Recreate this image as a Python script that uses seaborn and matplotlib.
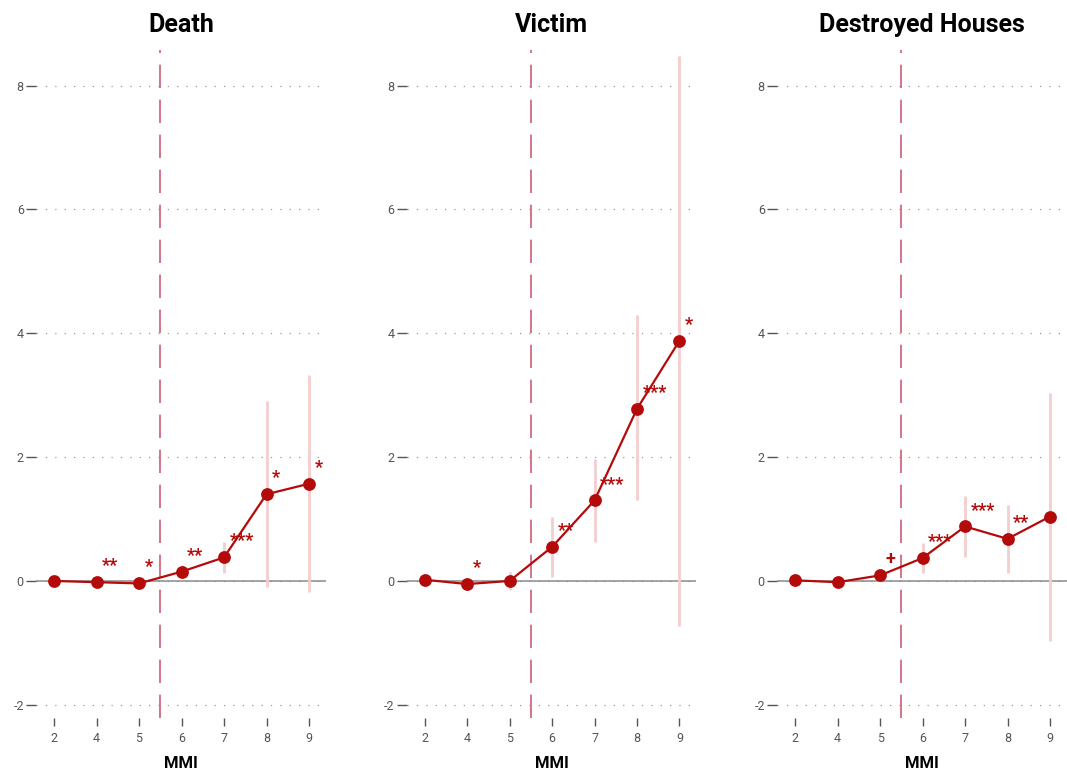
import numpy as np
import pandas as pd
import seaborn as sns
import matplotlib.pyplot as plt

mmi = ["2", "4", "5", "6", "7", "8", "9"]
titles = ["Death", "Victim", "Destroyed Houses"]

death_est = [0.0, -0.02, -0.04, 0.15, 0.38, 1.40, 1.57]
death_lo = [0.0, -0.05, -0.08, 0.05, 0.13, -0.10, -0.18]
death_hi = [0.0, 0.01, 0.0, 0.25, 0.63, 2.90, 3.33]
death_sig = ["", "**", "*", "**", "***", "*", "*"]

victim_est = [0.02, -0.05, 0.0, 0.55, 1.30, 2.78, 3.88]
victim_lo = [0.02, -0.1, -0.15, 0.06, 0.63, 1.30, -0.73]
victim_hi = [0.02, 0.0, 0.15, 1.03, 1.97, 4.30, 8.48]
victim_sig = ["", "*", "", "**", "***", "***", "*"]

houses_est = [0.01, -0.02, 0.09, 0.37, 0.88, 0.68, 1.04]
houses_lo = [0.01, -0.05, 0.0, 0.13, 0.39, 0.13, -0.97]
houses_hi = [0.01, 0.01, 0.18, 0.61, 1.37, 1.23, 3.04]
houses_sig = ["", "", "+", "***", "***", "**", ""]

panels = [
    (death_est, death_lo, death_hi, death_sig),
    (victim_est, victim_lo, victim_hi, victim_sig),
    (houses_est, houses_lo, houses_hi, houses_sig),
]

sns.set_style("white")
plt.rcParams["font.family"] = ["Roboto", "DejaVu Sans"]

RED = "#B40A0A"
PINK = "#F4CDCD"
DASH = "#D4748A"
GRAY = "#555555"

fig, axes = plt.subplots(1, 3, figsize=(10.67, 7.76), dpi=100)
fig.subplots_adjust(left=0.034, right=1.0, bottom=0.075, top=0.936, wspace=0.279)

for ax, title, (est, lo, hi, sig) in zip(axes, titles, panels):
    df = pd.DataFrame({"MMI": mmi, "est": est})
    pos = np.arange(len(mmi))

    for y in [-2, 0, 2, 4, 6, 8]:
        ax.axhline(y, color="#9a9a9a", lw=0.9, ls=(0, (1, 6.5)), zorder=0)
    ax.axhline(0, color="#8a8a8a", lw=1.1, zorder=1)

    ax.vlines(pos, lo, hi, color=PINK, lw=2, zorder=2)
    ax.axvline(2.5, color=DASH, lw=1.4, ls=(0, (12, 6)), zorder=2)

    sns.pointplot(data=df, x="MMI", y="est", order=mmi, color=RED,
                  markers="o", markersize=8, linewidth=1.6, errorbar=None,
                  ax=ax, zorder=3)

    for i, s in enumerate(sig):
        if s:
            ax.annotate(s, (i, est[i]), xytext=(4, 5), textcoords="offset points",
                        color=RED, fontsize=13, fontweight="bold",
                        ha="left", va="bottom")

    ax.set_xlim(-0.42, 6.40)
    ax.set_ylim(-2.21, 8.58)
    ax.set_yticks([-2, 0, 2, 4, 6, 8])
    ax.set_yticklabels(["-2", "0", "2", "4", "6", "8"])
    ax.set_title(title, fontsize=18, fontweight="bold", color="black", pad=13)
    ax.set_xlabel("MMI", fontsize=12, fontweight="bold", color="black", labelpad=8)
    ax.set_ylabel("")
    sns.despine(ax=ax, left=True, bottom=True)
    ax.tick_params(axis="y", length=7, width=1, color=GRAY, labelcolor=GRAY,
                   labelsize=9, pad=2, left=True)
    ax.tick_params(axis="x", length=6, width=1, color=GRAY, labelcolor=GRAY,
                   labelsize=9, pad=4, bottom=True, direction="out")

plt.savefig("out.png", dpi=100)
